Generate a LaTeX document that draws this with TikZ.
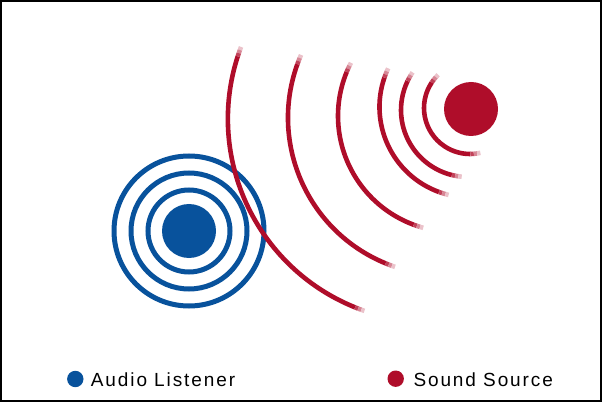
\documentclass[tikz,border=0pt]{standalone}
\usepackage{fontspec}
\newfontfamily\legendfont[LetterSpace=10]{Liberation Sans}
\definecolor{lblue}{RGB}{8,82,156}
\definecolor{sred}{RGB}{175,13,42}
\tikzset{
  ring/.style={draw=lblue, line width=5pt},
  wavepiece/.style={line width=4.6pt},
  dotbig/.style={circle, inner sep=0pt, minimum size=54pt},
  dotsmall/.style={circle, inner sep=0pt, minimum size=16.4pt},
  legendtext/.style={anchor=base west, inner sep=0pt, font=\legendfont\fontsize{19pt}{22pt}\selectfont, text=black}
}
% one piece of a wave arc: cx cy r a b colour
\newcommand\wavepart[6]{%
  \draw[wavepiece, draw=#6] (#1pt,#2pt) ++(#4:#3pt) arc[start angle=#4, end angle=#5, radius=#3pt];}
% a whole wave arc with faded ends: cx cy r a1 a2
\newcommand\soundwave[5]{%
  \pgfmathsetmacro\wda{10/#3*57.2958}%
  \pgfmathsetmacro\wsa{#4+\wda}%
  \pgfmathsetmacro\wea{#5-\wda}%
  \pgfmathsetmacro\wsb{#4+\wda/3}%
  \pgfmathsetmacro\wsc{#4+2*\wda/3}%
  \pgfmathsetmacro\web{#5-\wda/3}%
  \pgfmathsetmacro\wec{#5-2*\wda/3}%
  \wavepart{#1}{#2}{#3}{\wsa}{\wea}{sred}%
  \wavepart{#1}{#2}{#3}{#4}{\wsb}{sred!25!white}%
  \wavepart{#1}{#2}{#3}{\wsb}{\wsc}{sred!50!white}%
  \wavepart{#1}{#2}{#3}{\wsc}{\wsa}{sred!78!white}%
  \wavepart{#1}{#2}{#3}{\wec}{\wea}{sred!78!white}%
  \wavepart{#1}{#2}{#3}{\web}{\wec}{sred!50!white}%
  \wavepart{#1}{#2}{#3}{#5}{\web}{sred!25!white}%
}
\begin{document}
\begin{tikzpicture}[x=1pt,y=1pt]
\useasboundingbox (0,0) rectangle (602,402);
\fill[white] (0,0) rectangle (602,402);
\draw[black, line width=1.6pt] (0.8,0.8) rectangle (601.2,401.2);
% audio listener
\node[dotbig, fill=lblue] (listener) at (189,171) {};
\draw[ring] (listener.center) circle[radius=41];
\draw[ring] (listener.center) circle[radius=58];
\draw[ring] (listener.center) circle[radius=75];
% sound source
\node[dotbig, fill=sred] (source) at (471,293) {};
\soundwave{470}{294}{46}{133.8}{283}
\soundwave{468}{292}{67}{145.8}{264.6}
\soundwave{470}{295}{90.5}{154.7}{256.3}
\soundwave{454}{286}{116}{152.7}{254.6}
\soundwave{445.5}{284.3}{157.5}{156.5}{251.3}
\soundwave{431.3}{283.2}{203.4}{159.3}{250.8}
% legend
\node[dotsmall, fill=lblue] (ldot) at (75.3,23) {};
\node[legendtext] (ltext) at (90.7,15.3) {Audio Listener};
\node[dotsmall, fill=sred] (sdot) at (395.7,23.3) {};
\node[legendtext] (stext) at (413.3,15.3) {Sound Source};
\end{tikzpicture}
\end{document}
